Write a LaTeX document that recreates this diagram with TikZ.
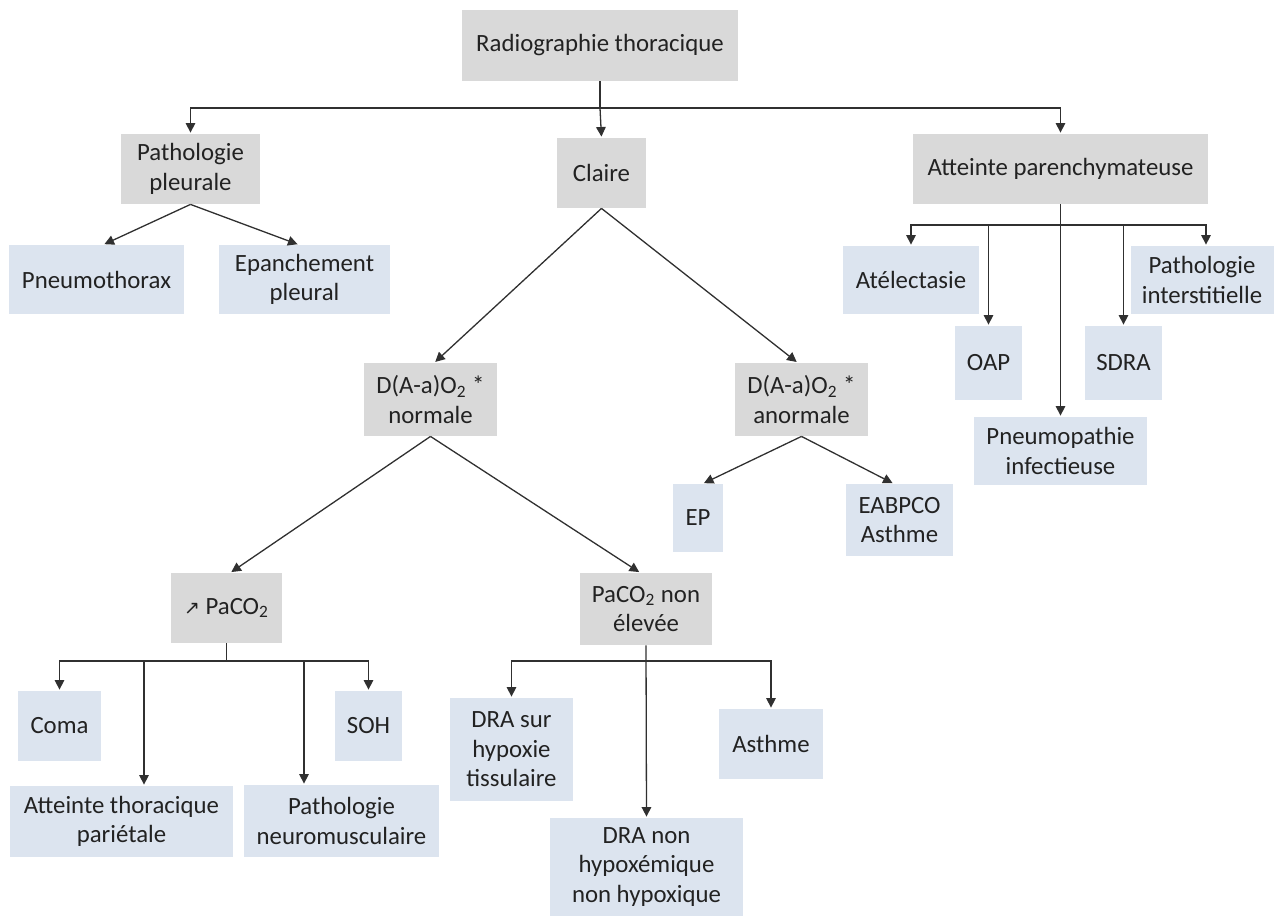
\documentclass[tikz,border=0pt]{standalone}
\usepackage{fontspec}
\setmainfont{Carlito}
\newfontfamily\symfont{DejaVu Sans}
\usetikzlibrary{arrows.meta}
\definecolor{gfill}{HTML}{D9D9D9}
\definecolor{bfill}{HTML}{DCE4EF}
\definecolor{linec}{HTML}{303030}
\definecolor{txt}{HTML}{222222}
\begin{document}
\begin{tikzpicture}[x=0.5pt,y=-0.5pt,
  box/.style={inner sep=2pt, align=center, text=txt, font=\fontsize{12.4pt}{14.7pt}\selectfont},
  gbox/.style={box, fill=gfill},
  bbox/.style={box, fill=bfill},
  conn/.style={draw=linec, line width=0.65pt, -{Triangle[length=4.8pt,width=4.8pt]}, shorten >=0.5pt},
  plain/.style={draw=linec, line width=0.65pt}]
\useasboundingbox (0,0) rectangle (1275,918);
% level 0-1
\node[gbox, minimum width=138pt, minimum height=35.5pt] (rad) at (600,45.5) {Radiographie thoracique};
\node[gbox, minimum width=69.5pt, minimum height=35pt] (patho) at (190.5,169) {Pathologie\\pleurale};
\node[gbox, minimum width=44.5pt, minimum height=35pt] (claire) at (601.5,173) {Claire};
\node[gbox, minimum width=147.5pt, minimum height=35pt] (att) at (1060.5,169) {Atteinte parenchymateuse};
% pleural
\node[bbox, minimum width=87.5pt, minimum height=34.5pt] (pneumo) at (96.5,279.5) {Pneumothorax};
\node[bbox, minimum width=85.5pt, minimum height=34.5pt] (epanch) at (304.5,279.5) {Epanchement\\pleural};
% parenchyme
\node[bbox, minimum width=68pt, minimum height=34pt] (atel) at (911,280) {Atélectasie};
\node[bbox, minimum width=71.5pt, minimum height=34pt] (pinter) at (1202,280) {Pathologie\\interstitielle};
\node[bbox, minimum width=33.5pt, minimum height=37pt] (oap) at (988.5,363) {OAP};
\node[bbox, minimum width=38.5pt, minimum height=37pt] (sdra) at (1123.5,363) {SDRA};
\node[bbox, minimum width=86.5pt, minimum height=34pt] (pinf) at (1060.5,451) {Pneumopathie\\infectieuse};
% claire
\node[gbox, minimum width=66.5pt, minimum height=36.5pt] (dnorm) at (430.5,399.5) {D(A-a)O\textsubscript{2} *\\normale};
\node[gbox, minimum width=66.5pt, minimum height=36.5pt] (danorm) at (801.5,399.5) {D(A-a)O\textsubscript{2} *\\anormale};
\node[bbox, minimum width=25pt, minimum height=34pt] (ep) at (698,518) {EP};
\node[bbox, minimum width=53.5pt, minimum height=36pt] (eab) at (899.5,520) {EABPCO\\Asthme};
\node[gbox, minimum width=55.5pt, minimum height=35pt] (pup) at (226.5,608) {{\symfont\fontsize{9.5pt}{10pt}\selectfont ↗} PaCO\textsubscript{2}};
\node[gbox, minimum width=66pt, minimum height=36pt] (pne) at (646,609) {PaCO\textsubscript{2} non\\élevée};
% hypercapnie
\node[bbox, minimum width=41.5pt, minimum height=35pt] (coma) at (59.5,726) {Coma};
\node[bbox, minimum width=33.5pt, minimum height=35pt] (soh) at (368.5,726) {SOH};
\node[bbox, minimum width=111.5pt, minimum height=35.5pt] (atp) at (121.5,821.5) {Atteinte thoracique\\pariétale};
\node[bbox, minimum width=97.5pt, minimum height=36pt] (pneuro) at (341.5,821) {Pathologie\\neuromusculaire};
% non elevee
\node[bbox, minimum width=61.5pt, minimum height=51.5pt] (drasur) at (511.5,749.5) {DRA sur\\hypoxie\\tissulaire};
\node[bbox, minimum width=52pt, minimum height=35pt] (asthme) at (771,744) {Asthme};
\node[bbox, minimum width=96.5pt, minimum height=49pt] (dranh) at (646.5,867) {DRA non\\hypoxémique\\non hypoxique};
% connectors level 1
\coordinate (b0) at (600,108);
\draw[plain] (rad.south) -- (b0);
\draw[conn] (b0) -- (claire.north);
\draw[conn] (b0) -| (patho.north);
\draw[conn] (b0) -| (att.north);
% pleural
\draw[conn] (patho.south) -- ([xshift=3.5pt]pneumo.north);
\draw[conn] (patho.south) -- ([xshift=-3pt]epanch.north);
% parenchyme
\coordinate (b1) at (1060.5,225);
\draw[conn] (att.south) -- (pinf.north);
\draw[conn] (b1) -| (atel.north);
\draw[conn] (b1) -| ([xshift=2pt]pinter.north);
\draw[conn] (b1 -| oap.north) -- (oap.north);
\draw[conn] (b1 -| sdra.north) -- (sdra.north);
% claire
\draw[conn] (claire.south) -- ([xshift=2pt]dnorm.north);
\draw[conn] (claire.south) -- ([xshift=-2pt]danorm.north);
\draw[conn] (danorm.south) -- ([xshift=2.5pt]ep.north);
\draw[conn] (danorm.south) -- ([xshift=-3pt]eab.north);
\draw[conn] (dnorm.south) -- ([xshift=2pt]pup.north);
\draw[conn] (dnorm.south) -- ([xshift=-3pt]pne.north);
% hypercapnie
\coordinate (b2) at (226.5,661);
\coordinate (b2a) at (144,661);
\coordinate (b2b) at (304,661);
\draw[plain] (pup.south) -- (b2);
\draw[conn] (b2) -| (coma.north);
\draw[conn] (b2) -| (soh.north);
\draw[conn] (b2a) -- (b2a |- atp.north);
\draw[conn] (b2b) -- (b2b |- pneuro.north);
% non elevee
\coordinate (b3) at (646.5,661);
\draw[conn] (pne.south) -- (dranh.north);
\draw[conn] (b3) -| (drasur.north);
\draw[conn] (b3) -| (asthme.north);
\end{tikzpicture}
\end{document}
